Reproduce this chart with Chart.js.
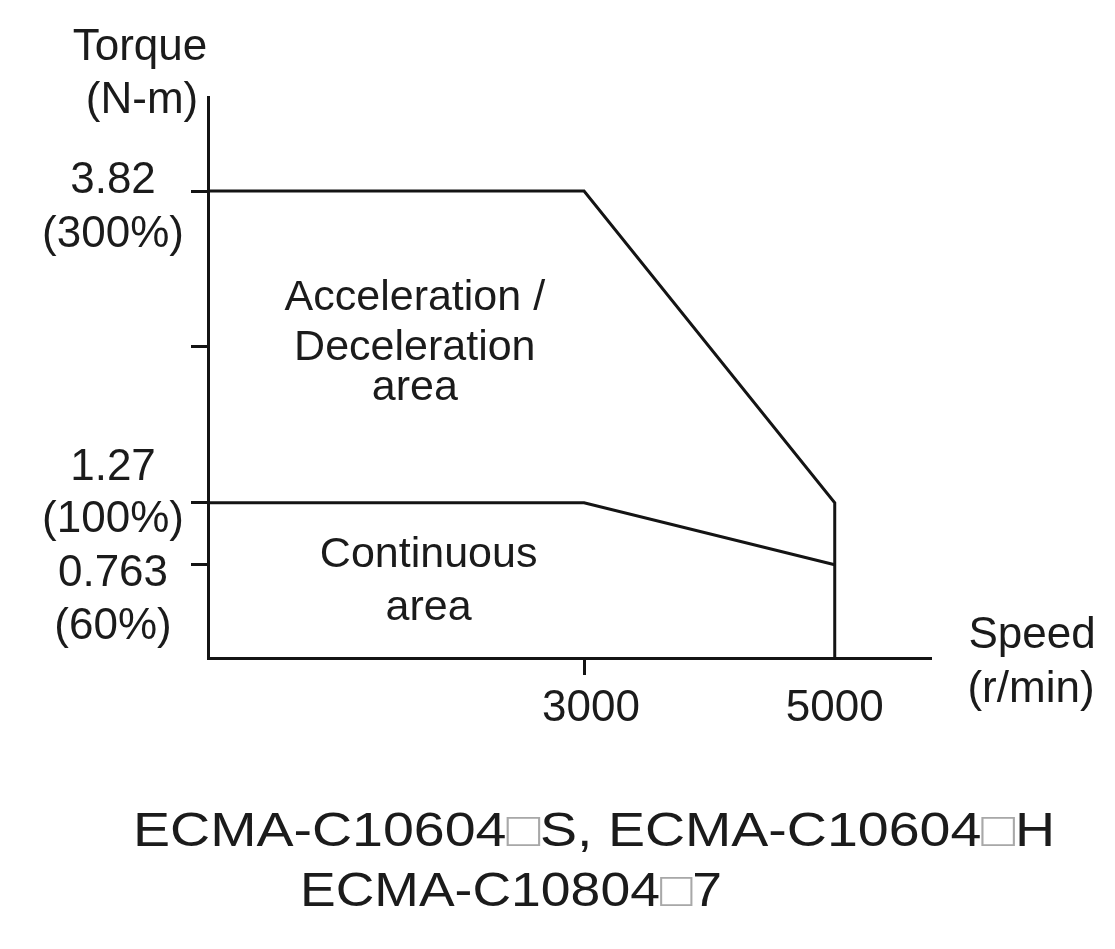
<!DOCTYPE html>
<html>
<head>
<meta charset="utf-8">
<script src="https://cdn.jsdelivr.net/npm/chart.js@4.4.1/dist/chart.umd.min.js"></script>
<style>
  html, body { margin: 0; padding: 0; background: #fff; }
  canvas { display: block; }
</style>
</head>
<body>
<canvas id="torqueChart" width="1115" height="949"></canvas>
<script>
// corner points of the two torque envelopes, speed in r/min, torque in N-m
var peakSpeed = [0, 3000, 5000, 5000];
var peakTorque = [3.82, 3.82, 1.27, 0];
var contSpeed = [0, 3000, 5000];
var contTorque = [1.27, 1.27, 0.763];

var torqueTicks = [0.763, 1.27, 2.545, 3.82];
var torqueLabels = [['0.763', '(60%)'], ['1.27', '(100%)'], [], ['3.82', '(300%)']];
var speedTicks = [3000, 5000];
var speedLabels = ['3000', '5000'];

var accelNote = ['Acceleration /', 'Deceleration', 'area'];
var contNote = ['Continuous', 'area'];
var modelNames = ['ECMA-C10604\u25A1S, ECMA-C10604\u25A1H', 'ECMA-C10804\u25A17'];

var FONT = '"Liberation Sans", Arial, sans-serif';
var INK = '#1b1b1b';

function toPoints(xs, ys) {
  return xs.map(function (x, i) { return { x: x, y: ys[i] }; });
}

function drawText(ctx, s, x, y, size) {
  ctx.font = size + 'px ' + FONT;
  ctx.textAlign = 'center';
  ctx.textBaseline = 'alphabetic';
  ctx.fillStyle = INK;
  ctx.fillText(s, x, y);
}

// model line, the empty box is drawn light grey and the whole line fitted to a width
function drawModel(ctx, s, cx, y, size, width) {
  ctx.save();
  ctx.font = size + 'px ' + FONT;
  ctx.textAlign = 'left';
  ctx.textBaseline = 'alphabetic';
  var parts = s.split(/(\u25A1)/);
  var total = 0;
  parts.forEach(function (p) { total += ctx.measureText(p).width; });
  var sx = width / total;
  ctx.translate(cx - width / 2, y);
  ctx.scale(sx, 1);
  var x = 0;
  parts.forEach(function (p) {
    ctx.fillStyle = p === '\u25A1' ? '#a8a8a8' : INK;
    ctx.fillText(p, x, 0);
    x += ctx.measureText(p).width;
  });
  ctx.restore();
}

var textPlugin = {
  id: 'textPlugin',
  afterDraw: function (chart) {
    var ctx = chart.ctx;
    var xs = chart.scales.x, ys = chart.scales.y;
    var area = chart.chartArea;
    ctx.save();

    // axis titles
    drawText(ctx, 'Torque', area.left - 68, area.top - 37, 44);
    drawText(ctx, '(N-m)', area.left - 66, area.top + 16, 44);
    drawText(ctx, 'Speed', area.right + 102, area.bottom - 10, 44);
    drawText(ctx, '(r/min)', area.right + 101, area.bottom + 44, 44);

    // torque labels, two lines each, nudged so they don't collide
    var yOff = [[21, 74], [-23, 29], [], [2, 56]];
    torqueTicks.forEach(function (v, i) {
      var py = ys.getPixelForValue(v);
      torqueLabels[i].forEach(function (s, j) {
        drawText(ctx, s, area.left - 95, py + yOff[i][j], 44);
      });
    });

    // speed labels
    var xOff = [7, 0];
    speedTicks.forEach(function (v, i) {
      drawText(ctx, speedLabels[i], xs.getPixelForValue(v) + xOff[i], area.bottom + 63, 44);
    });

    // area notes
    var ax = xs.getPixelForValue(1650);
    var accelY = [2.844, 2.436, 2.109];
    accelNote.forEach(function (s, i) {
      drawText(ctx, s, ax, ys.getPixelForValue(accelY[i]), 43);
    });
    var cx = xs.getPixelForValue(1760);
    var contY = [0.744, 0.311];
    contNote.forEach(function (s, i) {
      drawText(ctx, s, cx, ys.getPixelForValue(contY[i]), 43);
    });

    // model names under the chart
    drawModel(ctx, modelNames[0], 594, 846, 49, 922);
    drawModel(ctx, modelNames[1], 511, 906, 49, 422);

    ctx.restore();
  }
};

var lineStyle = {
  borderColor: '#141414',
  borderWidth: 3,
  pointRadius: 0,
  tension: 0,
  fill: false,
  showLine: true,
  borderJoinStyle: 'miter',
  borderCapStyle: 'butt'
};

new Chart(document.getElementById('torqueChart').getContext('2d'), {
  type: 'scatter',
  data: {
    datasets: [
      Object.assign({ label: 'Acceleration / Deceleration', data: toPoints(peakSpeed, peakTorque) }, lineStyle),
      Object.assign({ label: 'Continuous', data: toPoints(contSpeed, contTorque) }, lineStyle)
    ]
  },
  options: {
    responsive: false,
    animation: false,
    events: [],
    layout: { padding: { left: 191, top: 97, right: 185, bottom: 274 } },
    plugins: {
      legend: { display: false },
      tooltip: { enabled: false }
    },
    scales: {
      x: {
        type: 'linear',
        min: 0,
        max: 5760,
        afterBuildTicks: function (axis) {
          axis.ticks = speedTicks.map(function (v) { return { value: v }; });
        },
        border: { display: true, color: '#141414', width: 3 },
        grid: {
          drawOnChartArea: false,
          drawTicks: true,
          tickLength: 17,
          lineWidth: 3,
          tickColor: function (c) {
            return c.tick && c.tick.value === 3000 ? '#141414' : 'rgba(0,0,0,0)';
          }
        },
        ticks: { display: false }
      },
      y: {
        type: 'linear',
        min: 0,
        max: 4.59,
        afterBuildTicks: function (axis) {
          axis.ticks = torqueTicks.map(function (v) { return { value: v }; });
        },
        border: { display: true, color: '#141414', width: 3 },
        grid: {
          drawOnChartArea: false,
          drawTicks: true,
          tickLength: 17,
          lineWidth: 3,
          tickColor: '#141414'
        },
        ticks: { display: false }
      }
    }
  },
  plugins: [textPlugin]
});
</script>
</body>
</html>
